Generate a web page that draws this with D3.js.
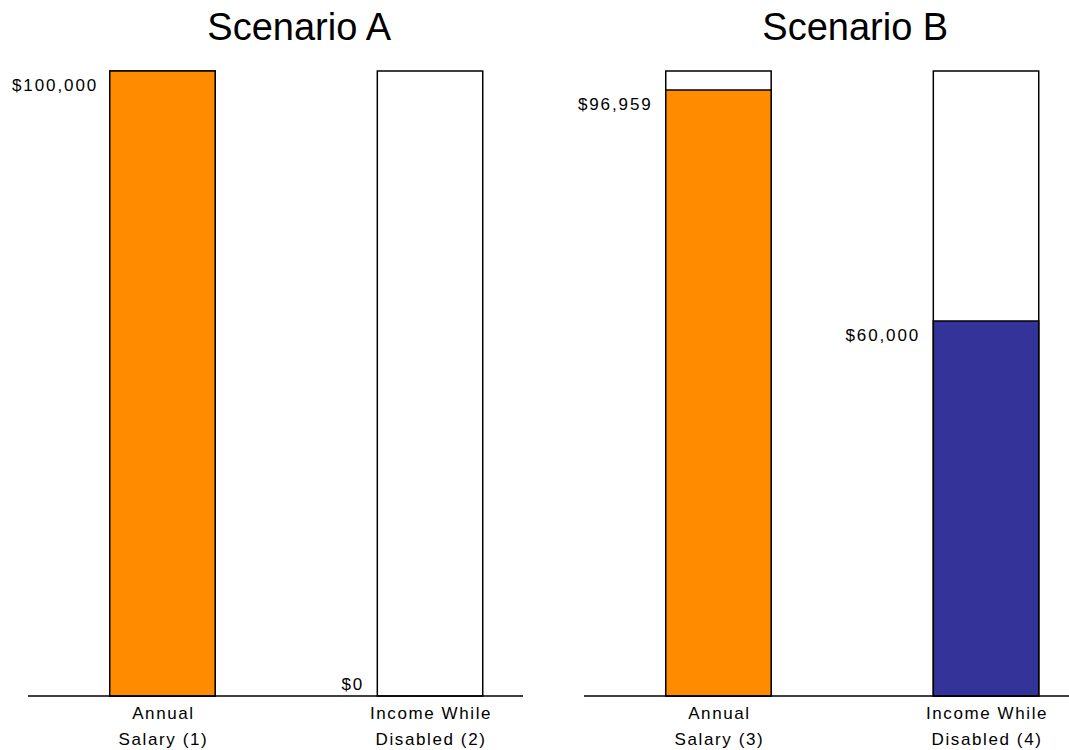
<!DOCTYPE html>
<html>
<head>
<meta charset="utf-8">
<script src="https://cdn.jsdelivr.net/npm/d3@7"></script>
<style>
  html, body { margin: 0; padding: 0; background: #fff; }
  svg { display: block; }
  text { font-family: Arial, "Liberation Sans", sans-serif; fill: #000; }
</style>
</head>
<body>
<svg id="chart" width="1069" height="750"></svg>
<script>
// ---- data ----
const scenarios = ["Scenario A", "Scenario B"];
const categoryLine1 = [["Annual", "Income While"], ["Annual", "Income While"]];
const categoryLine2 = [["Salary (1)", "Disabled (2)"], ["Salary (3)", "Disabled (4)"]];
const barKeys = ["salary", "disabled"];
const values = [[100000, 0], [96959, 60000]];
const capacity = 100000;
const valueLabels = [["$100,000", "$0"], ["$96,959", "$60,000"]];
const barColors = { salary: "#FF8C00", disabled: "#333399" };

// ---- layout ----
const svg = d3.select("#chart");
const panelOffsets = [0, 556];
const y = d3.scaleLinear().domain([0, capacity]).range([696, 71]);
const x = d3.scaleBand().domain(barKeys).range([28, 523])
  .paddingInner(0.606).paddingOuter(0.228).align(0.67);

scenarios.forEach((name, i) => {
  const g = svg.append("g").attr("transform", `translate(${panelOffsets[i]},0)`);

  g.append("text")
    .attr("x", (x(barKeys[0]) + x(barKeys[1]) + x.bandwidth()) / 2 + 3)
    .attr("y", 40)
    .attr("text-anchor", "middle")
    .style("font-size", "38px")
    .text(name);

  barKeys.forEach((k, j) => {
    const v = values[i][j];
    g.append("rect")
      .attr("x", x(k)).attr("y", y(capacity))
      .attr("width", x.bandwidth()).attr("height", y(0) - y(capacity))
      .attr("fill", "#fff").attr("stroke", "#000").attr("stroke-width", 1.5);
    if (v > 0) {
      g.append("rect")
        .attr("x", x(k)).attr("y", y(v))
        .attr("width", x.bandwidth()).attr("height", y(0) - y(v))
        .attr("fill", barColors[k]).attr("stroke", "#000").attr("stroke-width", 1.5);
    }
    let ly = y(v) + 14;
    if (ly > y(0) - 8) ly = y(0) - 12;
    const t = g.append("text")
      .attr("y", ly)
      .attr("dy", "0.35em")
      .attr("text-anchor", "start")
      .style("font-size", "17px")
      .style("letter-spacing", "1.9px")
      .text(valueLabels[i][j]);
    const w = t.node().getComputedTextLength() - 1.9;
    let lx = x(k) - 15 - w;
    const minX = (i === 0 ? 12 : 12);
    if (lx + panelOffsets[i] < minX) lx = minX - panelOffsets[i];
    t.attr("x", lx);
    const cx = x(k) + x.bandwidth() / 2 + 1;
    g.append("text").attr("x", cx).attr("y", 719).attr("text-anchor", "middle")
      .style("font-size", "17px").style("letter-spacing", "1.6px").text(categoryLine1[i][j]);
    g.append("text").attr("x", cx).attr("y", 745).attr("text-anchor", "middle")
      .style("font-size", "17px").style("letter-spacing", "1.6px").text(categoryLine2[i][j]);
  });

  g.append("line")
    .attr("x1", x.range()[0]).attr("x2", x.range()[1])
    .attr("y1", y(0)).attr("y2", y(0))
    .attr("stroke", "#000").attr("stroke-width", 1.5);
});
</script>
</body>
</html>
